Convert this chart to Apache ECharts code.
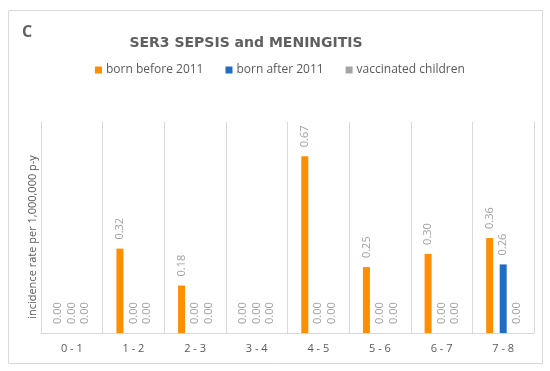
<!DOCTYPE html>
<html><head><meta charset="utf-8">
<script src="https://cdn.jsdelivr.net/npm/echarts@6/dist/echarts.min.js"></script>
<style>html,body{margin:0;padding:0;background:#fff}#c{width:550px;height:371px}</style>
</head><body><div id="c"></div>
<script>
const categories = ['0 - 1','1 - 2','2 - 3','3 - 4','4 - 5','5 - 6','6 - 7','7 - 8'];
const bornBefore2011 = [0, 0.32, 0.18, 0, 0.67, 0.25, 0.30, 0.36];
const bornAfter2011 = [0, 0, 0, 0, 0, 0, 0, 0.26];
const vaccinatedChildren = [0, 0, 0, 0, 0, 0, 0, 0];
const seriesNames = ['born before 2011','born after 2011','vaccinated children'];
const colors = ['#FF8F00','#1F6DC4','#A5A5A5'];
const font = '"Open Sans", "Liberation Sans", sans-serif';

const chart = echarts.init(document.getElementById('c'), null, {renderer:'canvas'});
const label = {
  show: true, position: 'top', rotate: 90, align: 'left', verticalAlign: 'middle',
  distance: 9, color: '#A0A0A0', fontSize: 11, fontFamily: font,
  formatter: p => p.value.toFixed(2)
};
function mk(name, data, color){
  return {name, type:'bar', data, barWidth: 7, barGap: '93%', barCategoryGap: '45%',
    itemStyle:{color}, label, emphasis:{disabled:true}};
}
chart.setOption({
  animation: false,
  color: colors,
  graphic: [
    {type:'rect', shape:{x:8.5,y:10.5,width:534,height:353}, style:{fill:'none', stroke:'#D9D9D9', lineWidth:1}},
    {type:'text', left: 22, top: 24, style:{text:'C', fontSize:16, fontWeight:'bold', fill:'#606060', fontFamily: font}},
    {type:'text', x: 33, y: 237, rotation: Math.PI/2,
      style:{text:'incidence rate per 1,000,000 p-y', fontSize:11, fill:'#595959', fontFamily: font, align:'center', verticalAlign:'middle'}}
  ],
  title: {
    text: 'SER3 SEPSIS and MENINGITIS', left: 241, top: 31, textAlign: 'center',
    textStyle: {fontSize: 14, fontWeight: 'bold', color: '#606060', fontFamily: '"DejaVu Sans", sans-serif'}
  },
  legend: {
    data: seriesNames, top: 59, left: 90, itemWidth: 7, itemHeight: 7, itemGap: 22,
    icon: 'rect', textStyle: {fontSize: 12, color: '#595959', fontFamily: font, padding:[0,0,0,-1]}
  },
  grid: {left: 41, right: 16, top: 122, bottom: 38},
  xAxis: {
    type: 'category', data: categories,
    axisLine: {lineStyle: {color: '#D9D9D9'}}, axisTick: {show: false},
    splitLine: {show: true, lineStyle: {color: '#D9D9D9'}},
    axisLabel: {color: '#595959', fontSize: 11, fontFamily: font, margin: 10}
  },
  yAxis: {
    type: 'value', min: 0, max: 0.8, show: false, splitLine: {show:false}
  },
  series: [
    mk(seriesNames[0], bornBefore2011, colors[0]),
    mk(seriesNames[1], bornAfter2011, colors[1]),
    mk(seriesNames[2], vaccinatedChildren, colors[2])
  ]
});
</script></body></html>
